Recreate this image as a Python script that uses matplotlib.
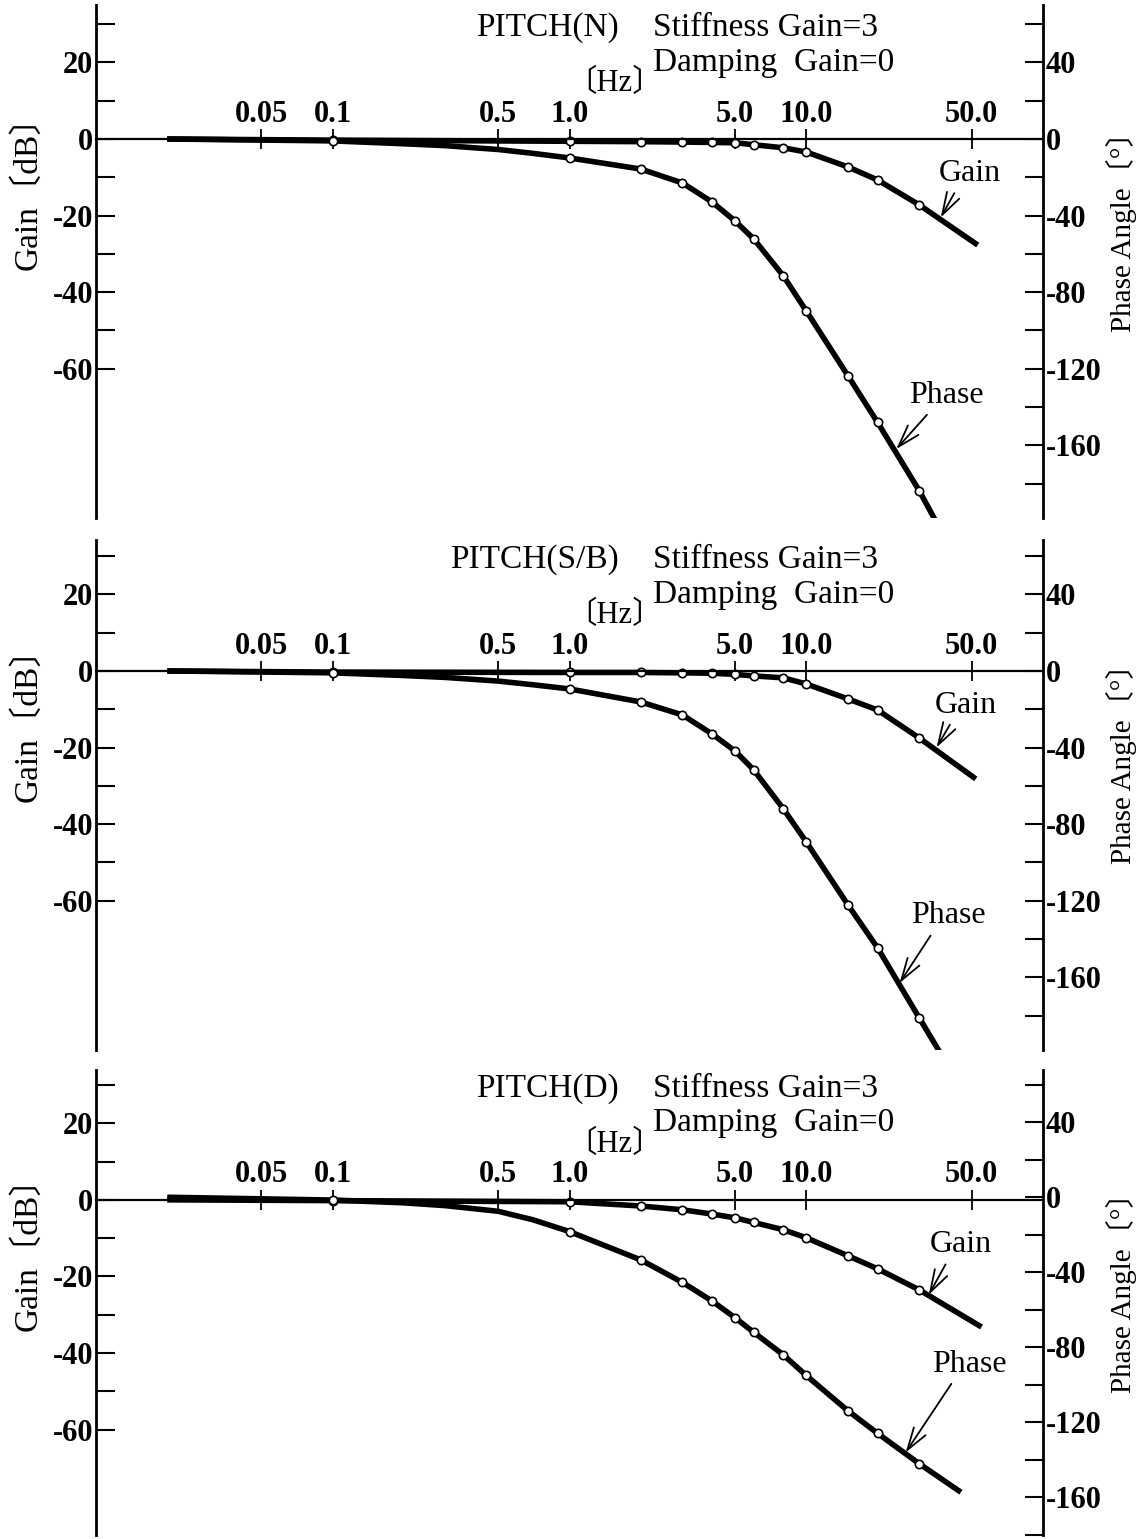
import numpy as np
import matplotlib
matplotlib.use("Agg")
import matplotlib.pyplot as plt
from matplotlib.ticker import NullLocator

plt.rcParams['font.family'] = ['Liberation Serif', 'Noto Sans CJK JP']
plt.rcParams['axes.unicode_minus'] = False

## DATA

# frequencies where measured points (open circles) are drawn
meas_freq = [0.1, 1, 2, 3, 4, 5, 6, 8, 10, 15, 20, 30]

# PITCH(N)
gain_freq_n = [0.02, 0.1, 1, 2, 3, 4, 5, 6, 8, 10, 15, 20, 30, 53]
gain_n = [0.0, -0.3, -0.6, -0.7, -0.8, -0.9, -1.0, -1.5, -2.3, -3.4, -7.3, -10.7, -17.2, -27.7]
phase_freq_n = [0.02, 0.1, 0.2, 0.3, 0.5, 0.7, 1, 2, 3, 4, 5, 6, 8, 10, 15, 20, 30, 35]
phase_n = [0.0, -1.0, -2.5, -3.5, -5.5, -7.5, -9.9, -15.7, -23.0, -32.9, -42.8, -52.2, -71.5, -89.8, -123.7, -148.0, -183.7, -199.0]

# PITCH(S/B)
gain_freq_sb = [0.02, 0.1, 1, 2, 3, 4, 5, 6, 8, 10, 15, 20, 30, 52]
gain_sb = [0.0, -0.3, -0.4, -0.4, -0.5, -0.6, -0.9, -1.3, -1.8, -3.4, -7.3, -10.2, -17.5, -28.2]
phase_freq_sb = [0.02, 0.1, 0.2, 0.3, 0.5, 0.7, 1, 2, 3, 4, 5, 6, 8, 10, 15, 20, 30, 37]
phase_sb = [0.0, -1.0, -2.4, -3.4, -5.3, -7.2, -9.4, -16.2, -23.0, -32.9, -41.8, -51.7, -72.0, -89.3, -122.2, -144.6, -181.2, -200.0]

# PITCH(D)
gain_freq_d = [0.02, 0.1, 1, 2, 3, 4, 5, 6, 8, 10, 15, 20, 30, 55]
gain_d = [0.0, -0.2, -0.5, -1.6, -2.6, -3.7, -4.7, -5.9, -7.8, -9.9, -14.6, -18.0, -23.5, -33.2]
phase_freq_d = [0.02, 0.1, 0.2, 0.3, 0.5, 0.7, 1, 2, 3, 4, 5, 6, 8, 10, 15, 20, 30, 45]
phase_d = [0.0, -1.5, -3.0, -4.5, -7.5, -12.0, -18.3, -33.4, -45.4, -55.3, -64.2, -72.0, -84.0, -95.0, -113.8, -125.8, -142.0, -157.2]

freq_ticks = [0.05, 0.1, 0.5, 1, 5, 10, 50]
freq_labels = ["0.05", "0.1", "0.5", "1.0", "5.0", "10.0", "50.0"]
gain_ticks = [20, 0, -20, -40, -60]
gain_minor = [30, 10, -10, -30, -50]
phase_ticks = [40, 0, -40, -80, -120, -160]
phase_minor = [60, 20, -20, -60, -100, -140, -180]

## LAYOUT (pixel rows of each panel, label positions)

W, H = 1147, 1539
panels = [
    dict(name="PITCH(N)", gf=gain_freq_n, g=gain_n, pf=phase_freq_n, p=phase_n,
         rows=(5, 518), ylim=(-99.0, 35.0),
         gain_txt=(49, -9.0), gain_tip=(37, -20.5),
         phase_txt=(39, -134), phase_tip=(24, -162)),
    dict(name="PITCH(S/B)", gf=gain_freq_sb, g=gain_sb, pf=phase_freq_sb, p=phase_sb,
         rows=(540, 1050), ylim=(-99.0, 34.2),
         gain_txt=(47, -8.9), gain_tip=(35.5, -20.0),
         phase_txt=(40, -128), phase_tip=(24.8, -163)),
    dict(name="PITCH(D)", gf=gain_freq_d, g=gain_d, pf=phase_freq_d, p=phase_d,
         rows=(1070, 1535), ylim=(-87.5, 33.9),
         gain_txt=(45, -11.7), gain_tip=(32.9, -24.8),
         phase_txt=(49, -89), phase_tip=(26.3, -136)),
]

fig = plt.figure(figsize=(W / 100, H / 100), dpi=100)
arrow = dict(arrowstyle="->,head_length=0.7,head_width=0.22", lw=1.3, color="black",
             shrinkA=2, shrinkB=0, relpos=(0.3, 0.0))

for pnl in panels:
    top, bot = pnl["rows"]
    ax = fig.add_axes([96 / W, 1 - bot / H, 947 / W, (bot - top) / H])
    ax.set_xscale("log")
    ax.set_xlim(0.01, 100)
    lo, hi = pnl["ylim"]
    ax.set_ylim(lo, hi)

    # frequency axis drawn along 0 dB
    ax.spines["bottom"].set_visible(False)
    ax.spines["right"].set_visible(False)
    ax.spines["top"].set_position(("data", 0))
    ax.spines["top"].set_linewidth(1.6)
    ax.spines["left"].set_linewidth(2.0)
    ax.xaxis.set_ticks_position("top")
    ax.set_xticks(freq_ticks, freq_labels)
    ax.xaxis.set_minor_locator(NullLocator())
    ax.tick_params(axis="x", direction="inout", length=15, width=1.3, pad=0, labelsize=22)

    ax.set_yticks(gain_ticks)
    ax.set_yticks(gain_minor, minor=True)
    ax.tick_params(axis="y", which="both", direction="in", length=14, width=1.5, pad=2, labelsize=22)
    ax.yaxis.get_major_ticks()[-1].tick1line.set_visible(False)

    ax2 = ax.twinx()
    ax2.set_ylim(2 * lo, 2 * hi)
    for s in ["top", "bottom", "left"]:
        ax2.spines[s].set_visible(False)
    ax2.spines["right"].set_linewidth(2.0)
    ax2.set_yticks(phase_ticks)
    ax2.set_yticks(phase_minor, minor=True)
    ax2.tick_params(axis="y", which="both", direction="in", length=13, width=1.5, pad=2, labelsize=22)

    for lbl in ax.get_xticklabels() + ax.get_yticklabels() + ax2.get_yticklabels():
        lbl.set_fontweight("bold")

    gmask = np.isin(pnl["gf"], meas_freq)
    pmask = np.isin(pnl["pf"], meas_freq)
    ax.plot(pnl["gf"], pnl["g"], color="black", lw=4.0, solid_capstyle="butt",
            marker="o", ms=6, mfc="white", mec="black", mew=1.2, markevery=list(gmask))
    ax2.plot(pnl["pf"], pnl["p"], color="black", lw=4.0, solid_capstyle="butt",
             marker="o", ms=6, mfc="white", mec="black", mew=1.2, markevery=list(pmask))

    ax.text(1.62, 29.0, pnl["name"], ha="right", va="center", fontsize=24)
    ax.text(2.25, 29.0, "Stiffness Gain=3", ha="left", va="center", fontsize=24)
    ax.text(2.25, 20.0, "Damping  Gain=0", ha="left", va="center", fontsize=24)
    ax.text(1.55, 14.5, "〔Hz〕", ha="center", va="center", fontsize=22)

    ax.text(-0.072, -12, "Gain〔dB〕", transform=ax.get_yaxis_transform(),
            rotation=90, ha="center", va="center", fontsize=24)
    ax.text(1.083, -22.5, "Phase Angle〔°〕", transform=ax.get_yaxis_transform(),
            rotation=90, ha="center", va="center", fontsize=21)

    ax.annotate("Gain", xy=pnl["gain_tip"], xytext=pnl["gain_txt"], ha="center", va="center",
                fontsize=23, arrowprops=arrow)
    ax2.annotate("Phase", xy=pnl["phase_tip"], xytext=pnl["phase_txt"], ha="center", va="center",
                 fontsize=23, arrowprops=arrow)

fig.savefig("out.png", dpi=100)
